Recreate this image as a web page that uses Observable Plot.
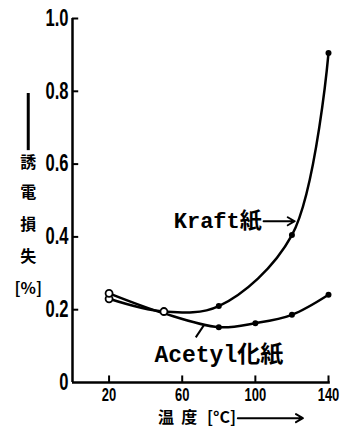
<!DOCTYPE html>
<html><head><meta charset="utf-8">
<script src="https://cdn.jsdelivr.net/npm/d3@7"></script>
<script src="https://cdn.jsdelivr.net/npm/@observablehq/plot@0.6"></script>
<style>body{margin:0;background:#fff}</style>
</head><body><div id="chart"></div>
<script>
// Data
const kraftTemps = [20, 50, 80, 120, 140];
const kraftLoss = [0.23, 0.195, 0.21, 0.405, 0.905];
const acetylTemps = [20, 50, 80, 100, 120, 140];
const acetylLoss = [0.245, 0.19, 0.152, 0.163, 0.186, 0.241];
const xTicks = [20, 60, 100, 140];
const xTickLabels = ["20", "60", "100", "140"];
const yTicks = [0, 0.2, 0.4, 0.6, 0.8, 1.0];
const yTickLabels = ["0", "0.2", "0.4", "0.6", "0.8", "1.0"];
const yLabelChars = ["誘", "電", "損", "失", "[%]"];
const xLabelParts = ["温", "度", "[°C]"];
const kraftName = "Kraft紙";
const acetylName = "Acetyl化紙";

const kraft = kraftTemps.map((t, i) => ({t, v: kraftLoss[i]}));
const acetyl = acetylTemps.map((t, i) => ({t, v: acetylLoss[i]}));

// annotation anchors (data units)
const yLab = yLabelChars.map((c, i) => ({c, x: -24.2, y: [0.604, 0.522, 0.434, 0.346, 0.258][i]}));
const xLab = xLabelParts.map((c, i) => ({c, x: [51.1, 63.8, 81.5][i], y: -0.098}));

const numFont = "'Liberation Sans', Arial, sans-serif";
const cjk = "'Noto Sans CJK JP', sans-serif";
const mono = "'Liberation Mono', 'Noto Sans CJK JP', monospace";

const plot = Plot.plot({
  width: 349,
  height: 429,
  marginLeft: 72,
  marginRight: 21,
  marginTop: 18,
  marginBottom: 47,
  x: {domain: [0, 140], axis: null},
  y: {domain: [0, 1], axis: null},
  style: {background: "#fff", color: "#000"},
  marks: [
    // axes lines
    Plot.ruleX([0], {y1: 0, y2: 1, strokeWidth: 2.5}),
    Plot.ruleY([0], {x1: 0, x2: 141, strokeWidth: 2.5}),
    // inward ticks
    Plot.ruleY(yTicks.slice(1), {y: d => d, x1: 0, x2: 3.4, strokeWidth: 2}),
    Plot.ruleX(xTicks, {x: d => d, y1: 0, y2: 0.018, strokeWidth: 2}),
    // tick labels
    Plot.text(yTicks, {x: 0, y: d => d, text: (d, i) => yTickLabels[i], textAnchor: "end", dx: -4, fontSize: 23, fontWeight: "bold", fontFamily: numFont, ariaDescription: "narrow"}),
    Plot.text(xTicks, {x: d => d, y: 0, text: (d, i) => xTickLabels[i], dy: 13, fontSize: 18, fontWeight: "bold", fontFamily: numFont, ariaDescription: "narrow"}),
    // curves
    Plot.line(kraft, {x: "t", y: "v", curve: "catmull-rom", strokeWidth: 2.5}),
    Plot.line(acetyl, {x: "t", y: "v", curve: "catmull-rom", strokeWidth: 2.5}),
    Plot.dot(kraft.slice(2), {x: "t", y: "v", r: 3, fill: "#000"}),
    Plot.dot(acetyl.slice(2), {x: "t", y: "v", r: 3, fill: "#000"}),
    Plot.dot([kraft[0], acetyl[0], kraft[1]], {x: "t", y: "v", r: 3.5, fill: "#fff", stroke: "#000", strokeWidth: 1.8}),
    // curve labels
    Plot.text([kraftName], {x: 103.5, y: 0.443, text: d => d, textAnchor: "end", fontSize: 22, fontWeight: "bold", fontFamily: mono}),
    Plot.arrow([0], {x1: 104.5, y1: 0.443, x2: 121.5, y2: 0.443, strokeWidth: 2, headLength: 6, bend: false}),
    Plot.text([acetylName], {x: 80, y: 0.077, text: d => d, fontSize: 23, fontWeight: "bold", fontFamily: mono}),
    Plot.link([0], {x1: 67.4, y1: 0.124, x2: 71.8, y2: 0.157, strokeWidth: 2}),
    // y label
    Plot.ruleX([-24.2], {x: d => d, y1: 0.637, y2: 0.794, strokeWidth: 3}),
    Plot.text(yLab, {x: "x", y: "y", text: "c", fontSize: 16, fontWeight: "bold", fontFamily: cjk}),
    // x label
    Plot.text(xLab, {x: "x", y: "y", text: "c", fontSize: 16, fontWeight: "bold", fontFamily: cjk}),
    Plot.arrow([0], {x1: 90.4, y1: -0.098, x2: 126, y2: -0.098, strokeWidth: 2, headLength: 6, bend: false})
  ]
});
// condense the numeric tick labels horizontally, like the narrow typeface in the reference
plot.querySelectorAll('g[aria-description="narrow"] text').forEach(t => {
  const tr = t.getAttribute("transform");
  if (tr) {
    t.setAttribute("transform", tr + " scale(0.72,1)");
  } else {
    const x = +t.getAttribute("x") || 0, y = +t.getAttribute("y") || 0;
    t.removeAttribute("x"); t.removeAttribute("y");
    t.setAttribute("transform", `translate(${x},${y}) scale(0.72,1)`);
  }
});
document.getElementById("chart").append(plot);
</script>
</body></html>
